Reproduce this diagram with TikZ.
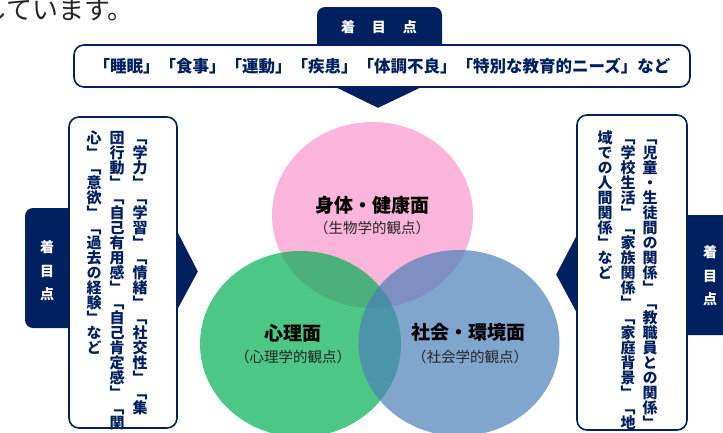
\documentclass[tikz,border=0pt]{standalone}
\usepackage{fontspec}
\setmainfont{Noto Sans CJK JP}
\newfontfamily\tatefont[RawFeature=+vert]{Noto Sans CJK JP}
\usepackage{xcolor}
\usepackage{tikz}
\usetikzlibrary{positioning}

\definecolor{navy}{RGB}{0,32,96}
\definecolor{pinkc}{RGB}{249,148,202}
\definecolor{greenc}{RGB}{1,175,81}
\definecolor{bluec}{RGB}{75,128,185}

% one column of vertical text, one character per em
\newcommand\tatecol[1]{\vbox{\offinterlineskip\tateloop#1\relax}}
\def\tateloop#1{\ifx\relax#1\else\hbox to 1em{\vrule width0pt height.88em depth.12em\hss\smash{#1}\hss}\expandafter\tateloop\fi}

\tikzset{
  tab/.style={fill=navy, rounded corners=8pt},
  tabtxt/.style={text=white, font=\fontsize{14}{23.5}\selectfont\bfseries, align=center, inner sep=0pt},
  pointbox/.style={draw=navy, line width=1.6pt, fill=white, rounded corners=10pt, inner sep=0pt},
  colm/.style={anchor=north, inner sep=0pt, text=navy, font=\tatefont\fontsize{15}{15}\selectfont\bfseries},
  headtxt/.style={font=\fontsize{19}{21}\selectfont\bfseries, inner sep=0pt},
  subtxt/.style={font=\fontsize{14.5}{16}\selectfont, text=black!85, inner sep=0pt},
  venn/.style={fill opacity=.7}
}

\begin{document}
\begin{tikzpicture}[x=1pt,y=-1pt]
\useasboundingbox (0,0) rectangle (723,432);
% text running above
\node (lead) [anchor=west, inner sep=0pt, text=black!85, font=\fontsize{26}{28}\selectfont] at (-19,10) {しています。};

% tabs (behind the boxes)
\node (toptab) [tab, minimum width=125pt, minimum height=50pt] at (379.5,32) {};
\node (lefttab) [tab, minimum width=70pt, minimum height=120pt] at (60,268) {};
\node (righttab) [tab, minimum width=75pt, minimum height=120pt] at (702,275) {};
\node (toptxt) [tabtxt] at (379,27) {着\hspace{1.2em}目\hspace{1.2em}点};
\node (lefttxt) [tabtxt] at (47,271) {着\\目\\点};
\node (righttxt) [tabtxt] at (710,276) {着\\目\\点};

% boxes
\node (topbox) [pointbox, minimum width=616pt, minimum height=42pt, text=navy,
  font=\fontsize{16.5}{18}\selectfont\bfseries] at (382,66)
  {「睡眠」「食事」「運動」「疾患」「体調不良」「特別な教育的ニーズ」など};
\node (leftbox) [pointbox, minimum width=108pt, minimum height=311pt] at (123,272.5) {};
\node (rightbox) [pointbox, minimum width=110pt, minimum height=315pt] at (632,272.5) {};

% pointers
\fill [navy] (topbox.south) ++(-47,-1) -- ++(43,21) -- ++(44,-21) -- cycle;
\fill [navy] (leftbox.east) ++(-1,-42) -- ++(21,41) -- ++(-21,39) -- cycle;
\fill [navy] (rightbox.west) ++(1,-38) -- ++(-21,40) -- ++(21,39) -- cycle;

% vertical columns
\node (lcol1) [colm] at (140,130) {\tatecol{「学力」「学習」「情緒」「社交性」「集}};
\node (lcol2) [colm] at (117,130) {\tatecol{団行動」「自己有用感」「自己肯定感」「関}};
\node (lcol3) [colm] at (94,130) {\tatecol{心」「意欲」「過去の経験」など}};
\node (rcol1) [colm] at (650,130) {\tatecol{「児童・生徒間の関係」「教職員との関係」}};
\node (rcol2) [colm] at (628,130) {\tatecol{「学校生活」「家族関係」「家庭背景」「地}};
\node (rcol3) [colm] at (605,130) {\tatecol{域での人間関係」など}};

% venn
\fill [venn, pinkc] (372.5,215) ellipse [x radius=100.5pt, y radius=93pt];
\fill [venn, greenc] (300.5,344) ellipse [x radius=100.5pt, y radius=93pt];
\fill [venn, bluec] (459,343) ellipse [x radius=100.5pt, y radius=93pt];

\node (bodytxt) [headtxt] at (372,205) {身体・健康面};
\node (bodysub) [subtxt] at (372,228) {（生物学的観点）};
\node (mindtxt) [headtxt] at (293,333) {心理面};
\node (mindsub) [subtxt] at (293,357) {（心理学的観点）};
\node (soctxt) [headtxt] at (468,332) {社会・環境面};
\node (socsub) [subtxt] at (470,357) {（社会学的観点）};
\end{tikzpicture}
\end{document}
